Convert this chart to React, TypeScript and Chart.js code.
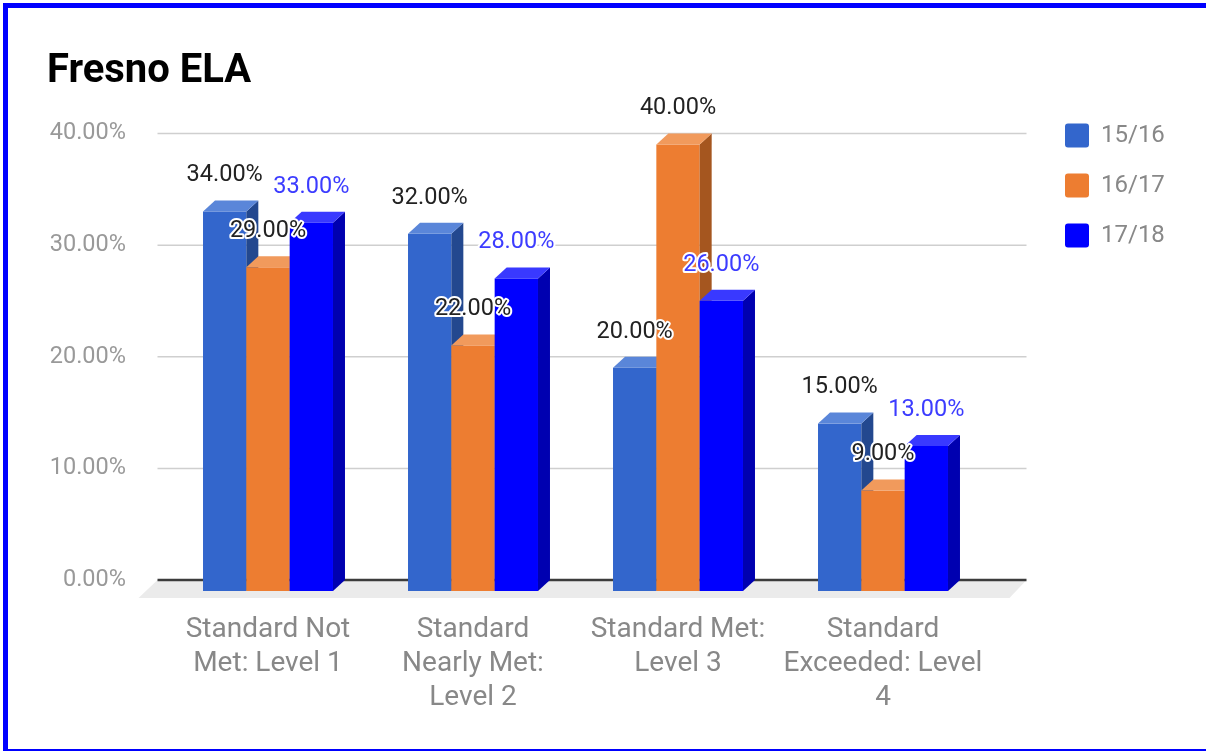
import React, { useEffect, useRef } from "react";
import { Chart, registerables } from "chart.js";

Chart.register(...registerables);

// ---- data ----
const categories: string[][] = [
  ["Standard Not", "Met: Level 1"],
  ["Standard", "Nearly Met:", "Level 2"],
  ["Standard Met:", "Level 3"],
  ["Standard", "Exceeded: Level", "4"],
];
const seriesNames = ["15/16", "16/17", "17/18"];
const values1516 = [34, 32, 20, 15];
const values1617 = [29, 22, 40, 9];
const values1718 = [33, 28, 26, 13];
const yTicks = [0, 10, 20, 30, 40];

// ---- styles ----
const FONT = "Roboto, sans-serif";
const frontColors = ["#3366cc", "#ed7d31", "#0000ff"];
const topColors = ["#5a86d9", "#f19a5c", "#3939ff"];
const sideColors = ["#23488f", "#a5561f", "#0000b0"];
const labelColors = ["#222222", "#222222", "#3c3cff"];
const DX = 12;
const DY = 11;
const FLOOR = 18;

const bars3d = {
  id: "bars3d",
  afterLayout(chart: any) {
    const lg = chart.legend;
    const ca = chart.chartArea;
    if (!lg || !ca) return;
    const pad = 26;
    const dx = ca.right + 79.5 - pad - lg.left;
    lg.left += dx;
    lg.right = chart.width;
    lg.width = lg.right - lg.left;
    const dy = ca.top - 10 - pad - lg.top;
    lg.top += dy;
    lg.bottom += dy;
  },
  beforeDatasetsDraw(chart: any) {
    const { ctx, chartArea: ca } = chart;
    const y = chart.scales.y;
    const gl = ca.left - 8;
    const gr = ca.right + 41;
    ctx.save();
    ctx.strokeStyle = "#cfcfcf";
    ctx.lineWidth = 1.5;
    for (const v of yTicks) {
      if (v === 0) continue;
      const py = y.getPixelForValue(v);
      ctx.beginPath();
      ctx.moveTo(gl, py);
      ctx.lineTo(gr, py);
      ctx.stroke();
    }
    const y0 = y.getPixelForValue(0);
    ctx.fillStyle = "#ebebeb";
    ctx.beginPath();
    ctx.moveTo(gl, y0);
    ctx.lineTo(gr, y0);
    ctx.lineTo(gr - 17, y0 + FLOOR);
    ctx.lineTo(gl - 19, y0 + FLOOR);
    ctx.closePath();
    ctx.fill();
    ctx.strokeStyle = "#3c3c3c";
    ctx.lineWidth = 2.5;
    ctx.beginPath();
    ctx.moveTo(gl, y0);
    ctx.lineTo(gr, y0);
    ctx.stroke();
    ctx.restore();
  },
  beforeDatasetDraw() {
    return false;
  },
  afterDatasetsDraw(chart: any) {
    const { ctx } = chart;
    const nCat = chart.data.labels.length;
    const nDs = chart.data.datasets.length;
    ctx.save();
    for (let i = 0; i < nCat; i++) {
      for (let d = 0; d < nDs; d++) {
        const el: any = chart.getDatasetMeta(d).data[i];
        const l = el.x - el.width / 2;
        const r = el.x + el.width / 2;
        const t = el.y + DY;
        const b = el.base + DY;
        ctx.fillStyle = frontColors[d];
        ctx.fillRect(l, t, r - l, b - t);
        ctx.fillStyle = sideColors[d];
        ctx.beginPath();
        ctx.moveTo(r, t);
        ctx.lineTo(r + DX, t - DY);
        ctx.lineTo(r + DX, b - DY);
        ctx.lineTo(r, b);
        ctx.closePath();
        ctx.fill();
        ctx.fillStyle = topColors[d];
        ctx.beginPath();
        ctx.moveTo(l, t);
        ctx.lineTo(l + DX, t - DY);
        ctx.lineTo(r + DX, t - DY);
        ctx.lineTo(r, t);
        ctx.closePath();
        ctx.fill();
      }
    }
    ctx.font = `23.5px ${FONT}`;
    ctx.textAlign = "center";
    ctx.textBaseline = "middle";
    ctx.lineJoin = "round";
    for (let i = 0; i < nCat; i++) {
      for (let d = 0; d < nDs; d++) {
        const el: any = chart.getDatasetMeta(d).data[i];
        const v = chart.data.datasets[d].data[i] as number;
        const text = v.toFixed(2) + "%";
        const x = el.x;
        const yy = el.y - 25;
        ctx.strokeStyle = "#ffffff";
        ctx.lineWidth = 4;
        ctx.strokeText(text, x, yy);
        ctx.fillStyle = labelColors[d];
        ctx.fillText(text, x, yy);
      }
    }
    ctx.restore();
  },
};

export default function App() {
  const ref = useRef<HTMLCanvasElement>(null);
  useEffect(() => {
    if (!ref.current) return;
    const seriesValues = [values1516, values1617, values1718];
    const chart = new Chart(ref.current, {
      type: "bar",
      data: {
        labels: categories,
        datasets: seriesNames.map((name, k) => ({
          label: name,
          data: seriesValues[k],
          backgroundColor: frontColors[k],
          borderWidth: 0,
          categoryPercentage: 0.634,
          barPercentage: 1.0,
        })),
      },
      options: {
        animation: false,
        responsive: false,
        events: [],
        layout: { padding: { left: 47, right: 120.5, top: 16, bottom: 0 } },
        plugins: {
          tooltip: { enabled: false },
          title: {
            display: true,
            text: "Fresno ELA",
            align: "start",
            color: "#000000",
            font: { family: FONT, size: 40, weight: "bold" },
            padding: { top: 32, bottom: 37.5 },
          },
          legend: {
            position: "right",
            align: "start",
            maxWidth: 100,
            labels: {
              boxWidth: 24,
              boxHeight: 24,
              padding: 26,
              color: "#888888",
              font: { family: FONT, size: 24 },
              useBorderRadius: true,
              borderRadius: 3,
            },
          },
        },
        scales: {
          x: {
            offset: true,
            grid: { display: false, drawTicks: false },
            border: { display: false },
            ticks: {
              color: "#888888",
              font: { family: FONT, size: 28 },
              padding: 33.5,
              maxRotation: 0,
              autoSkip: false,
            },
            afterFit: (s: any) => {
              s.height = 171;
            },
          },
          y: {
            min: 0,
            max: 40,
            grid: { display: false, drawTicks: false },
            border: { display: false },
            ticks: {
              stepSize: 10,
              color: "#999999",
              font: { family: FONT, size: 23.5 },
              padding: 39.5,
              callback: (v: any) => Number(v).toFixed(2) + "%",
            },
            afterFit: (s: any) => {
              s.width = 118.5;
            },
          },
        },
      },
      plugins: [bars3d],
    } as any);
    return () => chart.destroy();
  }, []);

  return (
    <div style={{ position: "fixed", left: 0, top: 0, width: 1206, height: 751, background: "#ffffff" }}>
      <canvas ref={ref} width={1206} height={751} style={{ display: "block" }} />
      <div
        style={{
          position: "absolute",
          left: 3,
          top: 3,
          right: 0,
          bottom: 0,
          borderLeft: "5px solid #0000ff",
          borderTop: "5px solid #0000ff",
          borderBottom: "2px solid #0000ff",
          pointerEvents: "none",
        }}
      />
    </div>
  );
}
